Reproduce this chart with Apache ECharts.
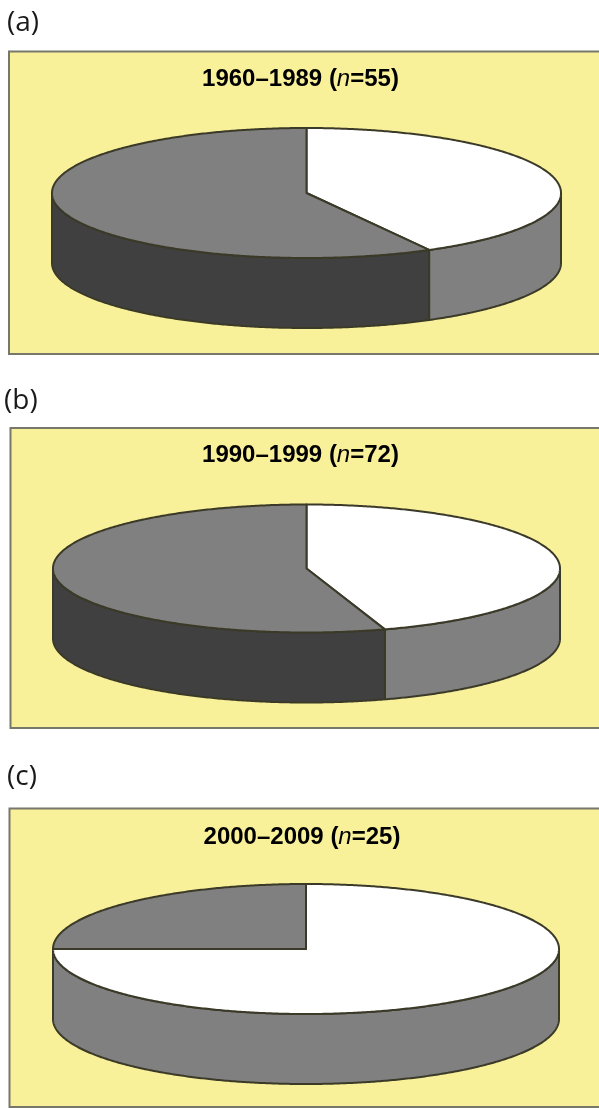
<!DOCTYPE html>
<html>
<head>
<meta charset="utf-8">
<style>html,body{margin:0;padding:0;background:#fff}#c{width:599px;height:1108px}</style>
<script src="https://cdn.jsdelivr.net/npm/echarts@6/dist/echarts.min.js"></script>
</head>
<body>
<div id="c"></div>
<script>
// Data
const panelLabels = ['(a)', '(b)', '(c)'];
const periods = ['1960–1989', '1990–1999', '2000–2009'];
const sampleSizes = [55, 72, 25];
const whiteShares = [42, 45, 75];   // percent, clockwise from 12 o'clock
const grayShares = [58, 55, 25];

// Layout (pixels)
const panelBoxes = [
  {left: 9, top: 51.5, bottom: 354},
  {left: 10.5, top: 428, bottom: 728},
  {left: 9.5, top: 808.5, bottom: 1107}
];
const discs = [
  {cx: 306.5, cy: 193, rx: 254.5, ry: 65, depth: 70},
  {cx: 306.5, cy: 568.5, rx: 253.5, ry: 64, depth: 70},
  {cx: 306, cy: 949, rx: 253, ry: 65, depth: 70}
];
const titleTops = [66, 442, 824];
const titleCentres = [300.5, 300.5, 302];
const labelPos = [[7, 4], [4, 382], [7, 758]];

const YELLOW = '#F9F09A', MID = '#808080', DARK = '#404040', WHITE = '#FFFFFF', EDGE = '#3B3A28';

const grids = [], xAxes = [], yAxes = [], series = [], titles = [];

function arc(from, to) {
  const pts = [], n = Math.max(2, Math.ceil(Math.abs(to - from) * 2));
  for (let k = 0; k <= n; k++) pts.push((from + (to - from) * k / n) * Math.PI / 180);
  return pts;
}

periods.forEach(function (p, i) {
  const b = panelBoxes[i], d = discs[i];
  const W = 620, H = b.bottom - b.top;
  grids.push({show: true, left: b.left, top: b.top, width: W, height: H, outerBoundsMode: 'none',
    backgroundColor: YELLOW, borderColor: '#77776A', borderWidth: 2});
  xAxes.push({type: 'value', gridIndex: i, show: false,
    min: (b.left - d.cx) / d.rx, max: (b.left + W - d.cx) / d.rx});
  yAxes.push({type: 'value', gridIndex: i, show: false,
    min: (d.cy - b.bottom) / d.ry, max: (d.cy - b.top) / d.ry});

  const total = whiteShares[i] + grayShares[i];
  const whiteEnd = whiteShares[i] / total * 360;
  const slices = [
    [0, whiteEnd, WHITE, MID],
    [whiteEnd, 360, MID, DARK]
  ];
  const depth = d.depth / d.ry;
  series.push({
    type: 'custom', xAxisIndex: i, yAxisIndex: i, clip: false, silent: true,
    coordinateSystem: 'cartesian2d',
    data: slices,
    encode: {x: 0, y: 1},
    renderItem: function (params, api) {
      const s = slices[params.dataIndex];
      const a0 = s[0], a1 = s[1];
      const children = [];
      const style = function (fill) {
        return {fill: fill, stroke: EDGE, lineWidth: 2, lineJoin: 'round'};
      };
      // side wall: only the part of the arc that faces the viewer
      const f0 = Math.max(a0, 90), f1 = Math.min(a1, 270);
      if (f1 > f0) {
        const upper = arc(f0, f1).map(function (t) { return api.coord([Math.sin(t), Math.cos(t)]); });
        const lower = arc(f1, f0).map(function (t) { return api.coord([Math.sin(t), Math.cos(t) - depth]); });
        children.push({type: 'polygon', z2: 1, shape: {points: upper.concat(lower)}, style: style(s[3])});
      }
      // top face
      const top = [api.coord([0, 0])].concat(arc(a0, a1).map(function (t) {
        return api.coord([Math.sin(t), Math.cos(t)]);
      }));
      children.push({type: 'polygon', z2: 2, shape: {points: top}, style: style(s[2])});
      return {type: 'group', children: children};
    }
  });

  titles.push({
    text: '{b|' + p + ' (}{i|n}{b|=' + sampleSizes[i] + ')}',
    left: titleCentres[i], top: titleTops[i], textAlign: 'center', padding: 0,
    textStyle: {
      rich: {
        b: {fontFamily: 'Liberation Sans', fontWeight: 'bold', fontSize: 24, color: '#000', lineHeight: 26},
        i: {fontFamily: 'Liberation Sans', fontStyle: 'italic', fontWeight: 'normal', fontSize: 24, color: '#000', lineHeight: 26}
      }
    }
  });
  titles.push({
    text: panelLabels[i], left: labelPos[i][0], top: labelPos[i][1], padding: 0,
    textStyle: {fontFamily: 'Open Sans', fontWeight: 'normal', fontSize: 28, color: '#1a1a1a', lineHeight: 38}
  });
});

const chart = echarts.init(document.getElementById('c'), null, {renderer: 'canvas'});
chart.setOption({
  animation: false,
  backgroundColor: '#fff',
  title: titles,
  grid: grids,
  xAxis: xAxes,
  yAxis: yAxes,
  series: series
});
</script>
</body>
</html>
